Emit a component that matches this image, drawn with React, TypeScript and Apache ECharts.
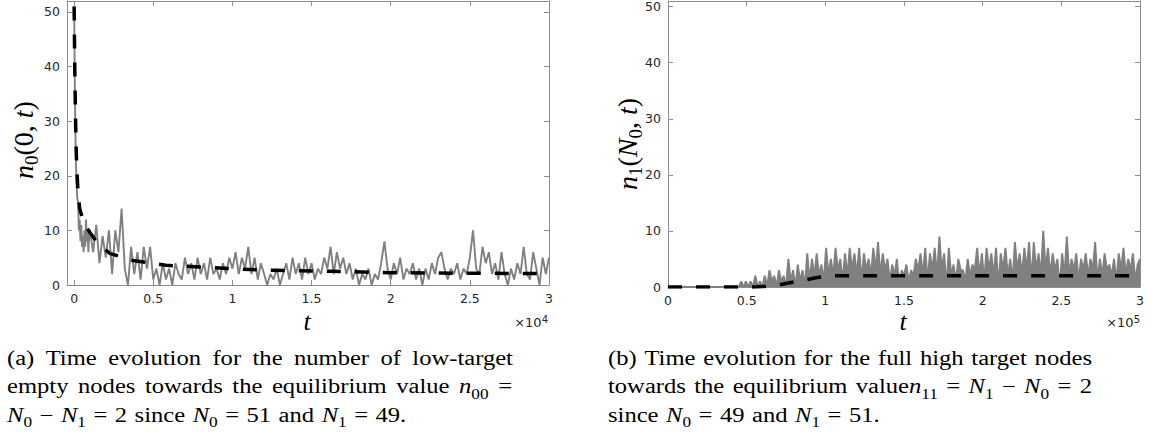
import React, { useEffect, useRef } from "react";
import * as echarts from "echarts";

const SERIF = '"Liberation Serif", "DejaVu Serif", serif';
const SANS = '"DejaVu Sans", sans-serif';
const GRAY = "#808080";
const AXIS = "#8c8c8c";
const INK = "#262626";

// ---------- Panel (a): n0(0,t) ----------
const leftEarlyTimes = [0, 40, 80, 120, 160, 200, 250, 300, 350, 400, 450, 500, 550, 600, 650, 700, 750, 800, 850, 900, 950];
const leftEarlyValues = [51, 38, 28, 22, 18, 16, 15, 10, 12, 8, 11, 7, 9, 6, 10, 7, 12, 8, 10, 6, 9];
const leftNoiseStart = 1000;
const leftNoiseStep = 200;
const leftNoiseValues = [
  10, 6, 11, 4, 9, 5, 10, 2, 10, 6, 14, 3, 0, 7, 2, 6, 1, 7, 3, 7,
  1, 3, 0, 4, 1, 3, 0, 4, 2, 1, 5, 2, 4, 1, 5, 2, 4, 1, 5, 2,
  3, 1, 4, 2, 5, 3, 6, 2, 5, 3, 7, 2, 5, 1, 4, 2, 0, 2, 1, 3,
  0, 2, 4, 1, 5, 2, 4, 1, 5, 2, 4, 1, 3, 2, 5, 3, 7, 2, 6, 3,
  5, 2, 4, 1, 3, 0, 2, 1, 3, 0, 2, 1, 4, 8, 3, 1, 4, 2, 5, 1,
  3, 2, 4, 1, 3, 0, 3, 1, 4, 2, 5, 6, 3, 1, 3, 2, 4, 1, 3, 2,
  5, 10, 3, 2, 7, 4, 6, 2, 4, 1, 6, 2, 0, 3, 1, 4, 2, 7, 2, 1,
  6, 3, 0, 5, 2, 5,
];
const leftMeanTimes = [0, 40, 80, 120, 170, 230, 350, 500, 770, 1000, 1400, 2240, 3700, 5800, 7900, 10000, 12100, 16300, 20000, 25000, 30000];
const leftMeanValues = [51, 40, 32, 26, 21, 18, 14, 12.5, 10.6, 9.6, 8, 5.8, 4.5, 3.6, 3.3, 3, 2.7, 2.5, 2.25, 2.15, 2.1];
const leftXTicks = [0, 5000, 10000, 15000, 20000, 25000, 30000];
const leftXLabels = ["0", "0.5", "1", "1.5", "2", "2.5", "3"];

// ---------- Panel (b): n1(N0,t) ----------
const rightFlatTimes = [0];
const rightFlatValues = [0];
const rightNoiseStart = 45000;
const rightNoiseStep = 1500;
const rightNoiseValues = [
  0, 1, 0, 1, 0, 1, 0, 2, 0, 1,
  0, 2, 0, 3, 1, 2, 0, 3, 1, 2,
  0, 5, 1, 3, 0, 4, 1, 3, 0, 6,
  1, 5, 2, 6, 2, 4, 1, 7, 2, 5,
  2, 7, 3, 5, 1, 6, 2, 7, 3, 6,
  2, 7, 1, 6, 3, 5, 2, 7, 3, 8,
  2, 6, 3, 5, 1, 4, 2, 5, 0, 3,
  2, 4, 1, 3, 2, 5, 3, 6, 2, 7,
  1, 6, 3, 7, 2, 9, 3, 6, 0, 7,
  2, 4, 1, 5, 3, 3, 1, 5, 2, 4,
  3, 7, 2, 6, 1, 7, 3, 6, 2, 7,
  0, 6, 3, 7, 2, 5, 1, 8, 3, 6,
  2, 7, 3, 8, 1, 8, 3, 6, 2, 10,
  3, 7, 2, 6, 3, 5, 0, 6, 2, 9,
  2, 5, 3, 6, 1, 5, 3, 6, 2, 5,
  3, 8, 1, 5, 2, 6, 3, 4, 2, 5,
  1, 6, 3, 7, 2, 5, 3, 6, 1, 4,
  5,
];
const rightMeanTimes = [0, 55000, 62000, 71000, 80000, 88000, 94000, 98000, 106000, 300000];
const rightMeanValues = [0, 0, 0.1, 0.4, 0.9, 1.3, 1.65, 1.8, 2, 2];
const rightXTicks = [0, 50000, 100000, 150000, 200000, 250000, 300000];
const rightXLabels = ["0", "0.5", "1", "1.5", "2", "2.5", "3"];

const yTicks = [0, 10, 20, 30, 40, 50];
const yLabels = ["0", "10", "20", "30", "40", "50"];

// ---------- Captions ----------
const captionA1 = ["(a)", "Time", "evolution", "for", "the", "number", "of", "low-target"];
const captionA2 = ["empty", "nodes", "towards", "the", "equilibrium", "value", "{i|n}{s|00}", "="];
const captionA3 = ["{i|N}{s|0}", "−", "{i|N}{s|1}", "=", "2", "since", "{i|N}{s|0}", "=", "51", "and", "{i|N}{s|1}", "=", "49."];
const captionB1 = ["(b)", "Time", "evolution", "for", "the", "full", "high", "target", "nodes"];
const captionB2 = ["towards", "the", "equilibrium", "value{i|n}{s|11}", "=", "{i|N}{s|1}", "−", "{i|N}{s|0}", "=", "2"];
const captionB3 = ["since", "{i|N}{s|0}", "=", "49", "and", "{i|N}{s|1}", "=", "51."];

const CAP_FS = 20;
const CAP_SUB = 14;
const CAP_LH = 28;
const CAP_SCALE = 1.23;
const CAP_GAP = 7.5;

function pairs(ts: number[], vs: number[]) {
  return ts.map((t, i) => [t, vs[i]]);
}
function grid(start: number, step: number, vs: number[]) {
  return vs.map((v, i) => [start + i * step, v]);
}

function measureWord(ctx: CanvasRenderingContext2D, word: string) {
  const re = /\{(\w+)\|([^}]*)\}|([^{]+)/g;
  let w = 0;
  let m: RegExpExecArray | null;
  while ((m = re.exec(word))) {
    if (m[3] !== undefined) {
      ctx.font = `${CAP_FS}px ${SERIF}`;
      w += ctx.measureText(m[3]).width;
    } else if (m[1] === "i") {
      ctx.font = `italic ${CAP_FS}px ${SERIF}`;
      w += ctx.measureText(m[2]).width;
    } else {
      ctx.font = `${CAP_SUB}px ${SERIF}`;
      w += ctx.measureText(m[2]).width;
    }
  }
  return w * CAP_SCALE;
}

const capRich = {
  i: { fontStyle: "italic", fontSize: CAP_FS, fontFamily: SERIF, lineHeight: CAP_LH, fill: "#000", color: "#000" },
  s: { fontSize: CAP_SUB, fontFamily: SERIF, lineHeight: 14, verticalAlign: "bottom", fill: "#000", color: "#000" },
};

export default function App() {
  const ref = useRef<HTMLDivElement>(null);
  useEffect(() => {
    const el = ref.current!;
    const chart = echarts.init(el, undefined, { renderer: "svg" });

    const canvas = document.createElement("canvas");
    const ctx = canvas.getContext("2d")!;
    const lines = [
      { words: captionA1, x0: 7, x1: 513, base: 365, justify: true },
      { words: captionA2, x0: 7, x1: 512, base: 393.5, justify: true },
      { words: captionA3, x0: 7, x1: 0, base: 422, justify: false },
      { words: captionB1, x0: 608, x1: 1092, base: 365, justify: true },
      { words: captionB2, x0: 608, x1: 1092, base: 393.5, justify: true },
      { words: captionB3, x0: 608, x1: 0, base: 422, justify: false },
    ];
    const graphics: any[] = [];
    lines.forEach((ln) => {
      const widths = ln.words.map((w) => measureWord(ctx, w));
      const total = widths.reduce((a, b) => a + b, 0);
      const gap = ln.justify ? (ln.x1 - ln.x0 - total) / (ln.words.length - 1) : CAP_GAP;
      let x = ln.x0;
      ln.words.forEach((w, i) => {
        graphics.push({
          type: "text",
          x,
          y: ln.base - 0.3375 * CAP_FS,
          scaleX: CAP_SCALE,
          silent: true,
          style: {
            text: w,
            fontFamily: SERIF,
            fontSize: CAP_FS,
            lineHeight: CAP_LH,
            fill: "#000",
            align: "left",
            verticalAlign: "middle",
            textAlign: "left",
            textVerticalAlign: "middle",
            rich: capRich,
          },
        });
        x += widths[i] + gap;
      });
    });

    const ylabRich = {
      i: { fontStyle: "italic", fontSize: 28, fontFamily: SERIF, lineHeight: 36, fill: "#000", color: "#000" },
      s: { fontSize: 19, fontFamily: SERIF, lineHeight: 18, verticalAlign: "bottom", fill: "#000", color: "#000" },
    };
    const yName = (text: string, x: number, y: number) => ({
      type: "text",
      x,
      y,
      rotation: Math.PI / 2,
      silent: true,
      style: {
        text,
        fontFamily: SERIF,
        fontSize: 28,
        lineHeight: 36,
        fill: "#000",
        align: "center",
        verticalAlign: "middle",
        textAlign: "center",
        textVerticalAlign: "middle",
        rich: ylabRich,
      },
    });
    graphics.push(yName("{i|n}{s|0}(0, {i|t})", 23, 140));
    graphics.push(yName("{i|n}{s|1}({i|N}{s|0}, {i|t})", 627, 144));

    const tName = (x: number) => ({
      type: "text",
      x,
      y: 321,
      silent: true,
      style: {
        text: "t",
        fontFamily: SERIF,
        fontStyle: "italic",
        fontSize: 26,
        lineHeight: 18,
        fill: "#000",
        align: "center",
        verticalAlign: "middle",
        textAlign: "center",
        textVerticalAlign: "middle",
      },
    });
    graphics.push(tName(307), tName(903));

    const expo = (x: number, p: string) => ({
      type: "text",
      x,
      y: 322,
      silent: true,
      style: {
        text: "×10{sup|" + p + "}",
        fontFamily: SANS,
        fontSize: 13,
        lineHeight: 16,
        fill: INK,
        align: "right",
        verticalAlign: "middle",
        textAlign: "right",
        textVerticalAlign: "middle",
        rich: { sup: { fontSize: 10, lineHeight: 10, verticalAlign: "top", fontFamily: SANS, fill: INK, color: INK } },
      },
    });
    graphics.push(expo(548, "4"), expo(1140, "5"));

    const xAxes = (gridIndex: number, min: number, max: number, ticks: number[], labels: string[]) => {
      const common = {
        type: "value",
        gridIndex,
        min,
        max,
        splitLine: { show: false },
        axisLine: { show: true, onZero: false, lineStyle: { color: AXIS, width: 1 } },
        axisTick: { show: true, inside: true, length: 5, customValues: ticks, lineStyle: { color: AXIS, width: 1 } },
      };
      return [
        {
          ...common,
          position: "bottom",
          axisLabel: {
            show: true,
            customValues: ticks,
            formatter: (v: number) => labels[ticks.indexOf(v)] ?? "",
            color: INK,
            fontFamily: SANS,
            fontSize: 12.5,
            margin: 7,
          },
        },
        { ...common, position: "top", axisLabel: { show: false } },
      ];
    };
    const yAxes = (gridIndex: number, max: number) => {
      const common = {
        type: "value",
        gridIndex,
        min: 0,
        max,
        splitLine: { show: false },
        axisLine: { show: true, onZero: false, lineStyle: { color: AXIS, width: 1 } },
        axisTick: { show: true, inside: true, length: 5, customValues: yTicks, lineStyle: { color: AXIS, width: 1 } },
      };
      return [
        {
          ...common,
          position: "left",
          axisLabel: {
            show: true,
            customValues: yTicks,
            formatter: (v: number) => yLabels[yTicks.indexOf(v)] ?? "",
            color: INK,
            fontFamily: SANS,
            fontSize: 12.5,
            margin: 7,
          },
        },
        { ...common, position: "right", axisLabel: { show: false } },
      ];
    };

    const leftNoise = [...pairs(leftEarlyTimes, leftEarlyValues), ...grid(leftNoiseStart, leftNoiseStep, leftNoiseValues)];
    const rightNoise = [...pairs(rightFlatTimes, rightFlatValues), ...grid(rightNoiseStart, rightNoiseStep, rightNoiseValues)];

    const option: any = {
      animation: false,
      backgroundColor: "#ffffff",
      grid: [
        { left: 67, top: 1, width: 482, height: 284, outerBoundsMode: "none", containLabel: false },
        { left: 668, top: 1, width: 472, height: 286, outerBoundsMode: "none", containLabel: false },
      ],
      xAxis: [
        ...xAxes(0, -450, 30000, leftXTicks, leftXLabels),
        ...xAxes(1, 0, 300000, rightXTicks, rightXLabels),
      ],
      yAxis: [...yAxes(0, 52), ...yAxes(1, 51)],
      series: [
        {
          type: "line",
          xAxisIndex: 0,
          yAxisIndex: 0,
          data: leftNoise,
          showSymbol: false,
          silent: true,
          lineStyle: { color: GRAY, width: 1.9 },
          z: 2,
        },
        {
          type: "line",
          xAxisIndex: 0,
          yAxisIndex: 0,
          data: pairs(leftMeanTimes, leftMeanValues),
          showSymbol: false,
          silent: true,
          lineStyle: { color: "#000", width: 3.5, type: [14, 14] },
          z: 3,
        },
        {
          type: "line",
          xAxisIndex: 2,
          yAxisIndex: 2,
          data: rightNoise,
          showSymbol: false,
          silent: true,
          lineStyle: { color: GRAY, width: 1.9 },
          areaStyle: { color: GRAY, opacity: 1 },
          z: 2,
        },
        {
          type: "line",
          xAxisIndex: 2,
          yAxisIndex: 2,
          data: pairs(rightMeanTimes, rightMeanValues),
          showSymbol: false,
          silent: true,
          lineStyle: { color: "#000", width: 3.5, type: [14, 14] },
          z: 3,
        },
      ],
      graphic: graphics,
    };
    chart.setOption(option);
    return () => chart.dispose();
  }, []);
  return <div ref={ref} style={{ position: "absolute", left: 0, top: 0, width: 1151, height: 436 }} />;
}
